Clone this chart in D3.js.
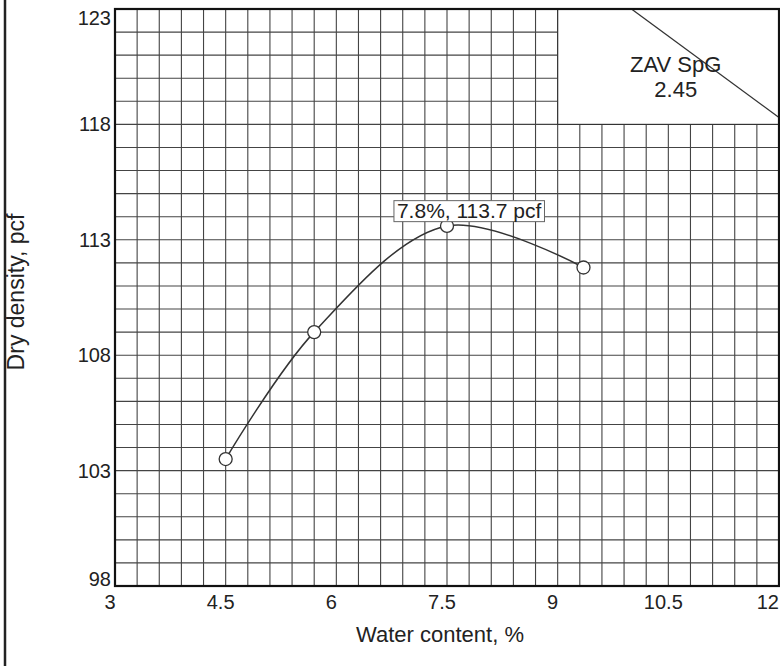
<!DOCTYPE html>
<html>
<head>
<meta charset="utf-8">
<script src="https://cdn.jsdelivr.net/npm/d3@7"></script>
<style>
  body { margin: 0; background: #fff; }
  text { font-family: "Liberation Sans", Arial, sans-serif; fill: #222; }
</style>
</head>
<body>
<svg id="chart" width="780" height="666"></svg>
<script>
// data
const waterContent = [4.5, 5.7, 7.5, 9.35];
const dryDensity = [103.5, 109.0, 113.6, 111.8];
const xTicks = [3, 4.5, 6, 7.5, 9, 10.5, 12];
const yTicks = [98, 103, 108, 113, 118, 123];
const peak = { w: 7.8, d: 113.7, label: '7.8%, 113.7 pcf' };
const zavLine = [[10.0, 123.0], [12.0, 118.3]];
const zavLabel = ['ZAV SpG', '2.45'];

const W = 780, H = 666;
const svg = d3.select('#chart');

const x = d3.scaleLinear().domain([3, 12]).range([115, 779]);
const y = d3.scaleLinear().domain([98, 123]).range([586, 9]);

// page edge from the scan
svg.append('line')
    .attr('x1', 5).attr('x2', 5).attr('y1', 0).attr('y2', H)
    .style('stroke', '#222').style('stroke-width', 2.5);

// grid, 0.3 % by 1 pcf
const g = svg.append('g');
g.selectAll('line.v')
    .data(d3.range(0, 31).map(i => 3 + i * 0.3))
    .join('line')
    .attr('class', 'v')
    .attr('x1', d => x(d)).attr('x2', d => x(d))
    .attr('y1', y(98)).attr('y2', y(123))
    .style('stroke', '#444').style('stroke-width', 1.1);
g.selectAll('line.h')
    .data(d3.range(98, 124))
    .join('line')
    .attr('class', 'h')
    .attr('x1', x(3)).attr('x2', x(12))
    .attr('y1', d => y(d)).attr('y2', d => y(d))
    .style('stroke', '#444').style('stroke-width', 1.1);

// ZAV legend box
svg.append('rect')
    .attr('x', x(9)).attr('y', y(123))
    .attr('width', x(12) - x(9)).attr('height', y(118) - y(123))
    .style('fill', '#fff').style('stroke', '#333').style('stroke-width', 1.2);
svg.append('path')
    .datum(zavLine)
    .attr('d', d3.line().x(d => x(d[0])).y(d => y(d[1])))
    .style('fill', 'none').style('stroke', '#333').style('stroke-width', 1.3);
svg.selectAll('text.zav')
    .data(zavLabel)
    .join('text')
    .attr('class', 'zav')
    .attr('x', x(10.6))
    .attr('y', (d, i) => 72 + i * 25)
    .attr('text-anchor', 'middle')
    .style('font-size', '22px')
    .text(d => d);

// frame
svg.append('rect')
    .attr('x', x(3)).attr('y', y(123))
    .attr('width', x(12) - x(3)).attr('height', y(98) - y(123))
    .style('fill', 'none').style('stroke', '#111').style('stroke-width', 2.2);

// compaction curve
const pts = waterContent.map((w, i) => [w, dryDensity[i]]);
svg.append('path')
    .datum(pts)
    .attr('d', d3.line().x(d => x(d[0])).y(d => y(d[1])).curve(d3.curveCatmullRom))
    .style('fill', 'none').style('stroke', '#333').style('stroke-width', 1.5);

svg.selectAll('circle')
    .data(pts)
    .join('circle')
    .attr('cx', d => x(d[0])).attr('cy', d => y(d[1]))
    .attr('r', 6.5)
    .style('fill', '#fff').style('stroke', '#333').style('stroke-width', 1.3);

// peak label
const pl = svg.append('g');
const pt = pl.append('text')
    .attr('x', x(peak.w)).attr('y', y(peak.d) - 6)
    .attr('text-anchor', 'middle')
    .style('font-size', '21px')
    .text(peak.label);
const bb = pt.node().getBBox();
pl.insert('rect', 'text')
    .attr('x', bb.x - 3).attr('y', bb.y + 2)
    .attr('width', bb.width + 6).attr('height', bb.height - 2)
    .style('fill', '#fff').style('stroke', '#666').style('stroke-width', 1);

// tick labels
svg.selectAll('text.xt')
    .data(xTicks)
    .join('text')
    .attr('class', 'xt')
    .attr('x', (d, i) => i === xTicks.length - 1 ? x(d) : x(d) - 5)
    .attr('y', y(98) + 23)
    .attr('text-anchor', (d, i) => i === xTicks.length - 1 ? 'end' : 'middle')
    .style('font-size', '20px')
    .text(d => d);

svg.selectAll('text.yt')
    .data(yTicks)
    .join('text')
    .attr('class', 'yt')
    .attr('x', x(3) - 4)
    .attr('y', d => Math.min(Math.max(y(d) + 7, 25), y(98)))
    .attr('text-anchor', 'end')
    .style('font-size', '20px')
    .text(d => d);

// axis titles
svg.append('text')
    .attr('x', 440).attr('y', 642)
    .attr('text-anchor', 'middle')
    .style('font-size', '22px')
    .text('Water content, %');

svg.append('text')
    .attr('transform', 'translate(24,292) rotate(-90)')
    .attr('text-anchor', 'middle')
    .style('font-size', '23px')
    .text('Dry density, pcf');
</script>
</body>
</html>
